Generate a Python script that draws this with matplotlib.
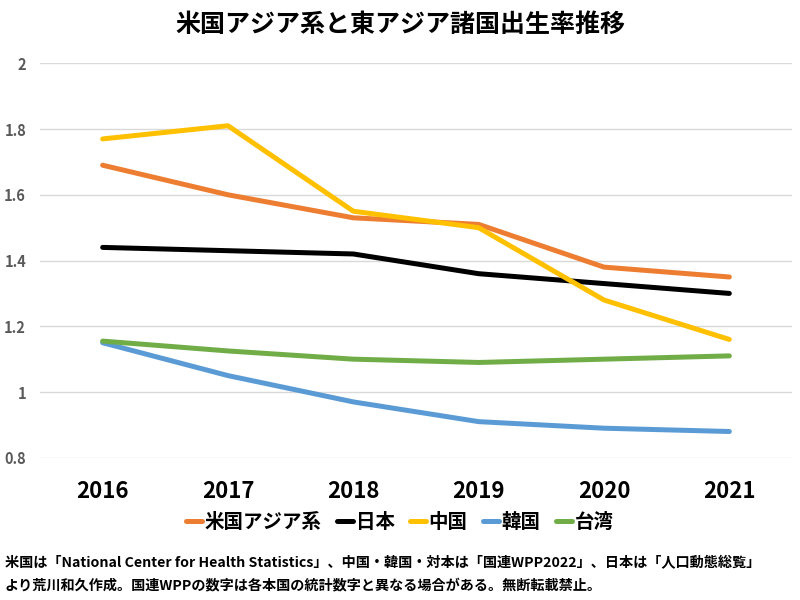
import matplotlib
matplotlib.use("Agg")
import matplotlib.pyplot as plt

plt.rcParams['font.family'] = ['Noto Sans CJK JP', 'DejaVu Sans']

# === DATA ===
years = ["2016", "2017", "2018", "2019", "2020", "2021"]
us_asian = [1.69, 1.60, 1.53, 1.51, 1.38, 1.35]
japan = [1.44, 1.43, 1.42, 1.36, 1.33, 1.30]
china = [1.77, 1.81, 1.55, 1.50, 1.28, 1.16]
korea = [1.15, 1.05, 0.97, 0.91, 0.89, 0.88]
taiwan = [1.155, 1.125, 1.10, 1.09, 1.10, 1.11]

series_names = ["米国アジア系", "日本", "中国", "韓国", "台湾"]
series_vals = [us_asian, japan, china, korea, taiwan]
colors = ["#ED7D31", "#000000", "#FFC000", "#5B9BD5", "#70AD47"]

title = "米国アジア系と東アジア諸国出生率推移"
note1 = "米国は「National Center for Health Statistics」、中国・韓国・対本は「国連WPP2022」、日本は「人口動態総覧」"
note2 = "より荒川和久作成。国連WPPの数字は各本国の統計数字と異なる場合がある。無断転載禁止。"

# === PLOT ===
fig = plt.figure(figsize=(8, 6), dpi=100)
ax = fig.add_axes([0.05, 0.237, 0.94, 0.6575])

x = list(range(len(years)))
for name, vals, c in zip(series_names, series_vals, colors):
    ax.plot(x, vals, color=c, lw=3.6, label=name, solid_capstyle="round", solid_joinstyle="round")

ax.set_xlim(-0.5, len(years) - 0.5)
ax.set_ylim(0.8, 2.0)
ax.set_yticks([0.8, 1.0, 1.2, 1.4, 1.6, 1.8, 2.0])
ax.set_yticklabels(["0.8", "1", "1.2", "1.4", "1.6", "1.8", "2"])
ax.set_xticks(x)
ax.set_xticklabels(years)
ax.grid(axis="y", color="#D9D9D9", lw=1)
ax.set_axisbelow(True)
for s in ax.spines.values():
    s.set_visible(False)
ax.tick_params(axis="y", length=0, pad=10, labelsize=10.5, labelcolor="#595959")
ax.tick_params(axis="x", length=0, pad=16, labelsize=16)
for lab in ax.get_xticklabels():
    lab.set_fontweight("bold")
for lab in ax.get_yticklabels():
    lab.set_fontweight("bold")

fig.text(0.5, 0.958, title, ha="center", va="center", fontsize=18, fontweight="bold")

fig.legend(loc="center", bbox_to_anchor=(0.5, 0.13), ncol=5, frameon=False,
           handlelength=0.8, handletextpad=0.15, columnspacing=0.8,
           prop={"size": 14, "weight": "bold"})

fig.text(0.006, 0.062, note1, ha="left", va="center", fontsize=10.2, fontweight="bold")
fig.text(0.006, 0.025, note2, ha="left", va="center", fontsize=10.2, fontweight="bold")

fig.savefig("out.png", dpi=100)
